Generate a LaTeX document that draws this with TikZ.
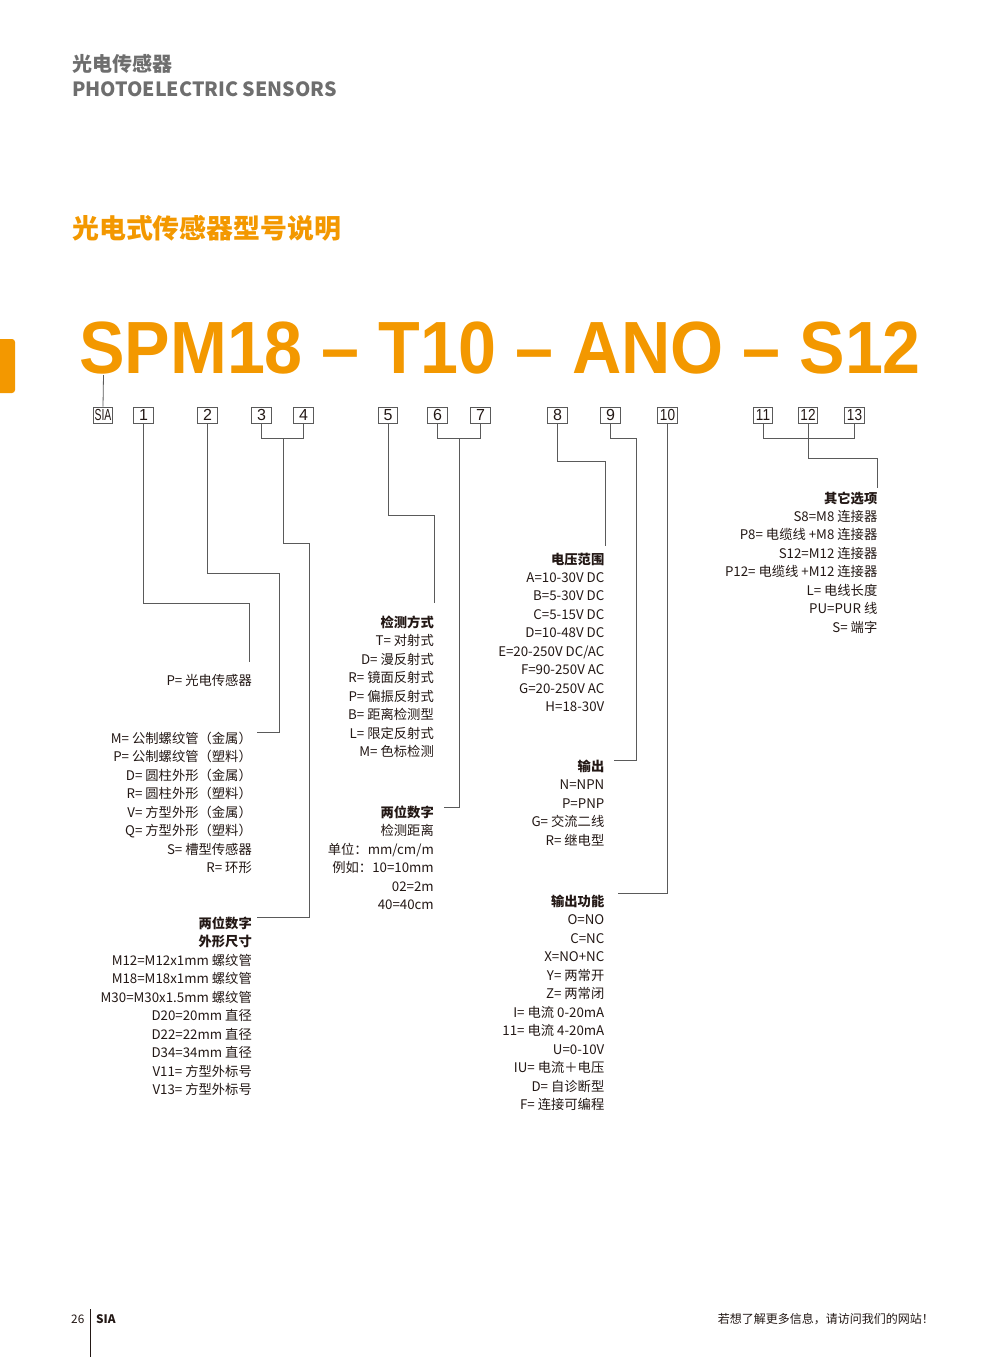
\documentclass[tikz,border=0pt]{standalone}
\usepackage{fontspec}
\usepackage{graphicx}
\setmainfont{Noto Sans CJK SC}
\newfontfamily\arialf{Liberation Sans}
\definecolor{sorange}{HTML}{F39800}
\definecolor{hgrey}{HTML}{6E6E6E}
\definecolor{lgrey}{HTML}{5A5A5A}
\definecolor{tblack}{HTML}{231815}
\newcommand\blk[4]{\foreach \t [count=\i] in {#4} {\node[txt] (#1\i) at (#2,{#3+(\i-1)*18.45}) {\t};}}
\tikzset{
 txt/.style={anchor=base east, inner sep=0pt, font=\fontsize{13.3}{15}\selectfont, text=tblack},
 numbox/.style={draw=lgrey, line width=0.7pt, minimum width=19.5pt, minimum height=16pt, inner sep=0pt, font=\arialf\fontsize{16}{16}\selectfont, text=tblack},
 conn/.style={draw=lgrey, line width=0.8pt},
}
\begin{document}
\begin{tikzpicture}[x=1pt,y=-1pt]
\useasboundingbox (0,0) rectangle (993,1357);
% header
\node[anchor=base west, inner sep=0pt, text=hgrey, font=\bfseries\fontsize{20}{20}\selectfont] (h1) at (72,71.5) {光电传感器};
\node[anchor=base west, inner sep=0pt, text=hgrey, font=\bfseries\fontsize{19.6}{20}\selectfont] (h2) at (72,96) {PHOTOELECTRIC SENSORS};
\node[anchor=base west, inner sep=0pt, text=sorange, font=\bfseries\fontsize{26.9}{27}\selectfont] (ttl) at (72,238) {光电式传感器型号说明};
\fill[sorange, rounded corners=3pt] (-6,339) rectangle (15,393);
% big code
\node[anchor=base west, inner sep=0pt, text=sorange, font=\arialf\bfseries\fontsize{74}{74}\selectfont] (code) at (79,373) {\scalebox{0.922}[1]{SPM18 – T10 – ANO – S12}};
% boxes
\node[numbox] (bs) at (103,415) {\scalebox{0.65}[1]{SIA}};
\node[numbox] (b1) at (143.5,415) {1};
\node[numbox] (b2) at (207.5,415) {2};
\node[numbox] (b3) at (261.5,415) {3};
\node[numbox] (b4) at (303.5,415) {4};
\node[numbox] (b5) at (388,415) {5};
\node[numbox] (b6) at (437.5,415) {6};
\node[numbox] (b7) at (480.5,415) {7};
\node[numbox] (b8) at (557.5,415) {8};
\node[numbox] (b9) at (610.5,415) {9};
\node[numbox] (b10) at (667.5,415) {\scalebox{0.85}[1]{10}};
\node[numbox] (b11) at (763,415) {\scalebox{0.85}[1]{11}};
\node[numbox] (b12) at (808,415) {\scalebox{0.85}[1]{12}};
\node[numbox] (b13) at (854.5,415) {\scalebox{0.85}[1]{13}};
\coordinate (sS) at (103.5,375);
\draw[conn] (bs.north) -- (sS);
% text blocks
\blk{A}{252}{685.5}{P= 光电传感器}
\blk{B}{252}{743.5}{M= 公制螺纹管（金属）, P= 公制螺纹管（塑料）, D= 圆柱外形（金属）, R= 圆柱外形（塑料）, V= 方型外形（金属）, Q= 方型外形（塑料）, S= 槽型传感器, R= 环形}
\blk{C}{252}{928.5}{{\bfseries 两位数字}, {\bfseries 外形尺寸}, M12=M12x1mm 螺纹管, M18=M18x1mm 螺纹管, M30=M30x1.5mm 螺纹管, D20=20mm 直径, D22=22mm 直径, D34=34mm 直径, V11= 方型外标号, V13= 方型外标号}
\blk{D}{434}{627.5}{{\bfseries 检测方式}, T= 对射式, D= 漫反射式, R= 镜面反射式, P= 偏振反射式, B= 距离检测型, L= 限定反射式, M= 色标检测}
\blk{E}{434}{817.5}{{\bfseries 两位数字}, 检测距离, 单位：mm/cm/m, 例如：10=10mm, 02=2m, 40=40cm}
\blk{F}{604.5}{564}{{\bfseries 电压范围}, A=10-30V DC, B=5-30V DC, C=5-15V DC, D=10-48V DC, E=20-250V DC/AC, F=90-250V AC, G=20-250V AC, H=18-30V}
\blk{G}{604.5}{771.5}{{\bfseries 输出}, N=NPN, P=PNP, G= 交流二线, R= 继电型}
\blk{H}{604.5}{906.5}{{\bfseries 输出功能}, O=NO, C=NC, X=NO+NC, Y= 两常开, Z= 两常闭, I= 电流 0-20mA, 11= 电流 4-20mA, U=0-10V, IU= 电流＋电压, D= 自诊断型, F= 连接可编程}
\blk{I}{877.5}{503}{{\bfseries 其它选项}, S8=M8 连接器, P8= 电缆线 +M8 连接器, S12=M12 连接器, P12= 电缆线 +M12 连接器, L= 电线长度, PU=PUR 线, S= 端字}
% connectors
\coordinate (e1) at (249,662);
\draw[conn] (b1.south) |- (249,603) -- (e1);
\coordinate (e2) at (257,732);
\draw[conn] (b2.south) |- (279,573) |- (e2);
\draw[conn] (b3.south) -- ++(0,15) -| (b4.south);
\coordinate (e34) at (257,917);
\draw[conn] (283,438) |- (309,543) |- (e34);
\coordinate (e5) at (434.5,603);
\draw[conn] (b5.south) |- (434.5,515) -- (e5);
\draw[conn] (b6.south) -- ++(0,15) -| (b7.south);
\coordinate (e67) at (444,807);
\draw[conn] (459,438) |- (e67);
\coordinate (e8) at (605,546);
\draw[conn] (b8.south) |- (605,461) -- (e8);
\coordinate (e9) at (614,760);
\draw[conn] (b9.south) |- (636.5,438) |- (e9);
\coordinate (e10) at (618,893);
\draw[conn] (b10.south) |- (e10);
\draw[conn] (b11.south) -- ++(0,15) -| (b13.south);
\coordinate (e12) at (877,488);
\draw[conn] (b12.south) |- (877,458) -- (e12);
% footer
\node[anchor=base west, inner sep=0pt, text=tblack, font=\fontsize{11.8}{12}\selectfont] (pg) at (71,1323.5) {26};
\coordinate (ft) at (90,1309);
\coordinate (fb) at (90,1360);
\draw[draw=tblack, line width=0.6pt] (ft) -- (fb);
\node[anchor=base west, inner sep=0pt, text=tblack, font=\bfseries\fontsize{11.8}{12}\selectfont] (fs) at (96,1323.5) {SIA};
\node[anchor=base east, inner sep=0pt, text=tblack, font=\fontsize{12}{12}\selectfont] (fr) at (934,1323.5) {若想了解更多信息，请访问我们的网站！};
\end{tikzpicture}
\end{document}
